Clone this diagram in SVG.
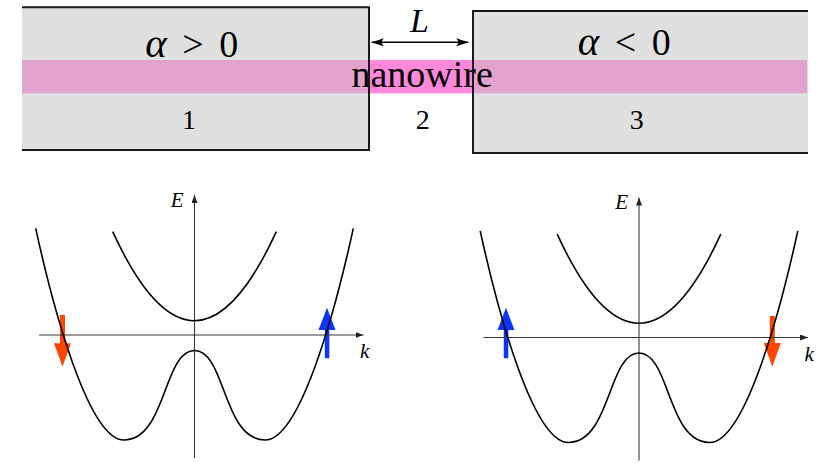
<svg xmlns="http://www.w3.org/2000/svg" width="830" height="463" viewBox="0 0 830 463">
<style>
.serif{font-family:"Liberation Serif","Times New Roman",serif;fill:#000}
.it{font-style:italic}
.box{fill:#e0e0e0;stroke:none}
.border{fill:none;stroke:#1a1a1a;stroke-width:2}
.band{fill:none;stroke:#000;stroke-width:1.6}
.axis{stroke:#3a3a3a;stroke-width:1.1;fill:none}
.up{fill:#0a36ff}
.down{fill:#ff4500}
</style>
<defs>
<marker id="ax" markerUnits="userSpaceOnUse" markerWidth="8" markerHeight="6" refX="8" refY="3" orient="auto"><path d="M0,0 L8,3 L0,6 Z" fill="#222"/></marker>
<marker id="lh" markerUnits="userSpaceOnUse" markerWidth="12" markerHeight="8" refX="12" refY="4" orient="auto-start-reverse"><path d="M0,0 L12,4 L0,8 L2.5,4 Z" fill="#000"/></marker>
<g id="plot">
<path class="axis" d="M39,335 H363.5" marker-end="url(#ax)"/>
<path class="axis" d="M194.5,458 V195" marker-end="url(#ax)"/>
<path class="band" d="M112.7,231.7 Q194.5,409.7 276.3,231.7"/>
<path class="band" d="M35.7,228.3 C53.7,311 89,440 124,440 C166,440 163.5,350.5 194.5,350.5 C225.5,350.5 223,440 265,440 C300,440 335.3,311 353.3,228.3"/>
</g>
</defs>

<g id="region1">
<rect class="box" x="22" y="7.3" width="347" height="142.7"/>
</g>
<g id="region3">
<rect class="box" x="473" y="11" width="335" height="142"/>
</g>
<g id="nanowire">
<rect x="22" y="60" width="347" height="33.3" fill="#e2a4cd"/>
<rect x="369" y="60" width="104" height="33.3" fill="#ff88dd"/>
<rect x="473" y="60" width="334" height="33.3" fill="#e2a4cd"/>
<text class="serif" x="351.5" y="87.3" font-size="38">nanowire</text>
</g>
<g id="borders">
<path class="border" d="M22,7.3 H369 V150 H22"/>
<path class="border" d="M808,11 H473 V153 H808"/>
</g>
<g id="labels">
<text class="serif" x="191.7" y="56.7" font-size="38" text-anchor="middle" word-spacing="6"><tspan class="it" font-size="41">α</tspan> &gt; 0</text>
<text class="serif" x="624.2" y="55" font-size="38" text-anchor="middle" word-spacing="6"><tspan class="it" font-size="41">α</tspan> &lt; 0</text>
<text class="serif" x="189" y="129.3" font-size="28" text-anchor="middle">1</text>
<text class="serif" x="422.8" y="129.3" font-size="28" text-anchor="middle">2</text>
<text class="serif" x="636.7" y="129.3" font-size="28" text-anchor="middle">3</text>
<text class="serif it" x="419.5" y="31.5" font-size="34" text-anchor="middle">L</text>
</g>
<g id="connectors">
<path d="M371.7,42.3 H468.3" stroke="#000" stroke-width="1.6" fill="none" marker-start="url(#lh)" marker-end="url(#lh)"/>
</g>

<g id="spin-arrows">
<path class="down" d="M60,315 H65 V343.3 H71 L62.5,366.7 L54,343.3 H60 Z"/>
<path class="up" d="M324.8,358.3 V330 H318.5 L327,307.7 L335.5,330 H329.3 V358.3 Z"/>
<path class="up" d="M503.8,358.3 V330 H497.5 L506,307.7 L514.5,330 H508.3 V358.3 Z"/>
<path class="down" d="M769.8,316 H774.8 V343 H780.8 L772.3,366.7 L763.8,343 H769.8 Z"/>
</g>

<g id="plot-left">
<use href="#plot"/>
<text class="serif it" x="170.7" y="206.7" font-size="21">E</text>
<text class="serif it" x="360" y="358.3" font-size="21">k</text>
</g>
<g id="plot-right">
<use href="#plot" transform="translate(444.5,2.5)"/>
<text class="serif it" x="615.2" y="209.2" font-size="21">E</text>
<text class="serif it" x="804.5" y="360.8" font-size="21">k</text>
</g>
</svg>
